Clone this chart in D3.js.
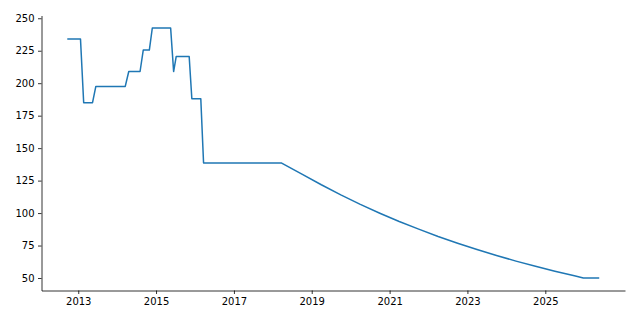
<!DOCTYPE html>
<html>
<head>
<meta charset="utf-8">
<script src="https://cdn.jsdelivr.net/npm/d3@7"></script>
<style>
  html, body { margin: 0; padding: 0; background: #fff; }
  svg { display: block; }
  .tick text { font-family: "DejaVu Sans", sans-serif; font-size: 10px; fill: #000; }
</style>
</head>
<body>
<svg id="chart" width="640" height="320"></svg>
<script>
// ---- data ----
const dates = [
  "2012-09-27", "2013-01-22", "2013-02-21", "2013-05-15", "2013-06-15",
  "2014-03-18", "2014-04-20", "2014-08-04", "2014-09-03", "2014-10-30",
  "2014-11-27", "2015-05-18", "2015-06-15", "2015-07-09", "2015-11-08",
  "2015-12-03", "2016-02-25", "2016-03-22", "2018-03-25", "2018-10-01",
  "2019-04-01", "2019-10-01", "2020-04-01", "2020-10-01", "2021-04-01",
  "2021-10-01", "2022-04-01", "2022-10-01", "2023-04-01", "2023-10-01",
  "2024-04-01", "2024-10-01", "2025-04-01", "2025-10-01", "2025-12-24",
  "2026-05-15"
];
const values = [
  234, 234, 185, 185, 197.5,
  197.5, 209, 209, 225.5, 225.5,
  242.5, 242.5, 209, 220.5, 220.5,
  188, 188, 138.5, 138.5, 130,
  121.8, 114, 106.7, 99.9, 93.5,
  87.6, 82, 76.8, 71.9, 67.3,
  63, 59, 55.2, 51.7, 50,
  50
];
const xTickYears = [2013, 2015, 2017, 2019, 2021, 2023, 2025];
const yTickValues = [50, 75, 100, 125, 150, 175, 200, 225, 250];

// ---- layout ----
const mLeft = 41.5, mRight = 625, mTop = 15.5, mBottom = 290.5;
const parse = d3.timeParse("%Y-%m-%d");
const points = dates.map((d, i) => ({ date: parse(d), value: values[i] }));

const svg = d3.select("#chart");

const xExt = d3.extent(points, d => +d.date);
const xPad = (xExt[1] - xExt[0]) * 0.05;
const x = d3.scaleTime()
  .domain([new Date(xExt[0] - xPad), new Date(xExt[1] + xPad)])
  .range([mLeft, mRight]);

const yExt = d3.extent(values);
const yPad = (yExt[1] - yExt[0]) * 0.05;
const y = d3.scaleLinear()
  .domain([yExt[0] - yPad, yExt[1] + yPad])
  .range([mBottom, mTop]);

// x axis
const xAxis = d3.axisBottom(x)
  .tickValues(xTickYears.map(yr => new Date(yr, 0, 1)))
  .tickFormat(d3.timeFormat("%Y"))
  .tickSize(3.5)
  .tickPadding(3.5)
  .tickSizeOuter(0);
const gx = svg.append("g")
  .attr("transform", `translate(0,${mBottom})`)
  .call(xAxis);

// y axis
const yAxis = d3.axisLeft(y)
  .tickValues(yTickValues)
  .tickFormat(d3.format("d"))
  .tickSize(3.5)
  .tickPadding(3.5)
  .tickSizeOuter(0);
const gy = svg.append("g")
  .attr("transform", `translate(${mLeft},0)`)
  .call(yAxis);

[gx, gy].forEach(g => {
  g.select(".domain").attr("stroke", "#000").attr("stroke-width", 0.8);
  g.selectAll(".tick line").attr("stroke", "#000").attr("stroke-width", 0.8);
});

// line
const line = d3.line()
  .x(d => x(d.date))
  .y(d => y(d.value));

svg.append("path")
  .datum(points)
  .attr("fill", "none")
  .attr("stroke", "#1f77b4")
  .attr("stroke-width", 1.5)
  .attr("stroke-linejoin", "round")
  .attr("stroke-linecap", "square")
  .attr("d", line);
</script>
</body>
</html>
